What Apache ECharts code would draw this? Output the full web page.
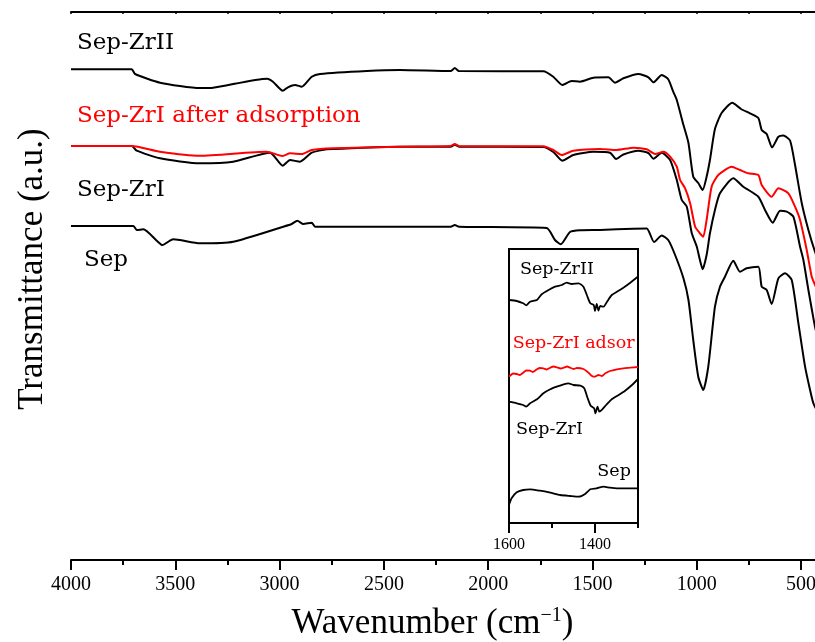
<!DOCTYPE html>
<html>
<head>
<meta charset="utf-8">
<script src="https://cdn.jsdelivr.net/npm/echarts@6/dist/echarts.min.js"></script>
<style>
  html, body { margin: 0; padding: 0; background: #fff; }
  #chart { width: 815px; height: 642px; }
</style>
</head>
<body>
<div id="chart"></div>
<script>
// FTIR spectra: [wavenumber (cm-1), offset transmittance (a.u.)]
const sepZrII = [
  [4000, 490.7], [3709, 490.7], [3693, 486], [3573, 477.3], [3382, 472], [3319, 472.3],
  [3060, 481.3], [3032, 478.3], [2985, 469.3], [2960, 472.7], [2926, 475], [2894, 473.3],
  [2846, 483.3], [2806, 486], [2582, 489], [2423, 490], [2180, 489], [2160, 492], [2140, 489],
  [1736, 488.7], [1688, 483.3], [1645, 475], [1600, 479], [1560, 478.3], [1496, 482.3],
  [1424, 482.7], [1392, 477.3], [1352, 481.7], [1280, 486], [1232, 482.7], [1208, 477.7],
  [1168, 485], [1137, 480.7], [1113, 468.3], [1096, 460], [1064, 435], [1040, 417],
  [1017, 383.3], [993, 377], [972, 370], [953, 383.3], [937, 400], [913, 431], [881, 447],
  [830, 457.3], [788, 451], [745, 446.7], [705, 442], [689, 430], [665, 426], [639, 412.5],
  [609, 423.3], [585, 424.5], [553, 419.5], [529, 395], [497, 357], [465, 330], [433, 308],
  [400, 290]
];

const sepZrIAdsorbed = [
  [4000, 414], [3709, 414], [3573, 408.3], [3382, 404.3], [3062, 408.3], [2985, 404],
  [2950, 406.7], [2894, 406], [2846, 410], [2743, 411.7], [2423, 413.3], [2180, 414],
  [2160, 416], [2140, 414], [1736, 413.7], [1688, 410], [1648, 405], [1592, 409.3],
  [1464, 411], [1384, 410], [1304, 412.3], [1240, 410.7], [1200, 406], [1160, 408.3],
  [1128, 403.3], [1096, 393.3], [1080, 380], [1056, 371.7], [1032, 356.7], [1008, 333.3],
  [985, 326.7], [969, 323.3], [953, 340], [929, 373.3], [897, 385], [833, 393.3],
  [793, 390], [753, 386.7], [705, 385], [689, 375], [641, 363.3], [609, 371.7], [561, 366.7],
  [529, 353.3], [505, 340], [473, 310], [449, 283.3], [433, 275], [400, 260]
];

const sepZrI = [
  [4000, 414], [3709, 414], [3685, 409.3], [3573, 401.7], [3382, 396.7], [3223, 398.3],
  [3046, 407.3], [2985, 394.3], [2950, 400], [2902, 398.3], [2846, 407.3], [2774, 410.7],
  [2423, 413.3], [2180, 413.3], [2160, 415.3], [2140, 413.3], [1736, 413], [1688, 408],
  [1645, 399.3], [1592, 405], [1496, 408.3], [1416, 407.3], [1387, 401], [1352, 405.5],
  [1280, 409.3], [1232, 407], [1208, 401.3], [1168, 407.3], [1128, 400], [1096, 380],
  [1072, 360], [1048, 353.3], [1024, 326.7], [1000, 313.3], [985, 300], [972, 290.7],
  [953, 305], [937, 326.7], [913, 350], [889, 366.7], [825, 381.7], [777, 373.3],
  [705, 363.3], [673, 350], [636, 337.3], [601, 349.3], [569, 348.3], [537, 343.3],
  [505, 313.3], [489, 300], [465, 270], [433, 233], [400, 205]
];

const sep = [
  [4000, 334], [3701, 334], [3685, 330], [3653, 330.7], [3589, 319.3], [3562, 315],
  [3510, 320.7], [3382, 316.7], [3222, 318.3], [2982, 333.3], [2942, 336], [2915, 339.3],
  [2886, 336], [2846, 337.3], [2830, 333.3], [2423, 333.3], [2180, 333.3], [2160, 335],
  [2140, 333.3], [1720, 332], [1680, 320], [1652, 315.7], [1608, 328], [1560, 329.7],
  [1464, 330], [1304, 331.3], [1240, 331.5], [1205, 318], [1168, 324.5], [1137, 320],
  [1104, 305], [1064, 281.7], [1040, 260], [1017, 220], [993, 183.3], [969, 170],
  [945, 193.3], [913, 253.3], [889, 273.3], [865, 283.3], [825, 299.3], [793, 288.3],
  [761, 291.7], [705, 293.3], [689, 273.3], [665, 270], [641, 256], [609, 281.7],
  [577, 286.7], [545, 280], [513, 236.7], [481, 193.3], [457, 170], [441, 156.7], [400, 140]
];

// Expanded 1600-1300 cm-1 region
const insetZrII = [
  [1600, 223], [1582, 222], [1567, 219.7], [1560, 217.7], [1551, 221.3], [1535, 223],
  [1524, 228.7], [1508, 233], [1493, 236.3], [1477, 238], [1466, 240.3], [1454, 239],
  [1438, 239.7], [1427, 236.3], [1419, 228], [1411, 219.7], [1403, 218], [1400, 212],
  [1396, 219], [1392, 212.3], [1388, 217], [1380, 216.3], [1372, 221.3], [1361, 228],
  [1349, 231.3], [1334, 235.3], [1318, 240.3], [1302, 245.7], [1300, 246.5]
];

const insetZrIAdsorbed = [
  [1600, 146.3], [1590, 149.5], [1582, 149], [1575, 148], [1567, 150.3], [1560, 152.5],
  [1551, 152.3], [1545, 151], [1535, 153.7], [1528, 155], [1520, 154.7], [1512, 153.5],
  [1504, 155.3], [1496, 156.5], [1489, 155.7], [1480, 154.5], [1473, 155.3], [1465, 156.5],
  [1458, 155.3], [1450, 154], [1442, 155], [1427, 154], [1415, 150.3], [1407, 147],
  [1400, 146.3], [1392, 148], [1384, 147], [1376, 149.7], [1365, 152], [1349, 153.7],
  [1334, 154.7], [1318, 155.3], [1300, 156]
];

const insetZrI = [
  [1600, 121.3], [1582, 119.7], [1567, 118], [1560, 116.3], [1551, 119.7], [1535, 123.7],
  [1520, 129.7], [1504, 133.7], [1489, 136.3], [1473, 138.7], [1462, 139.7], [1450, 138],
  [1434, 137.3], [1425, 134.7], [1417, 124.7], [1410, 117.3], [1402, 114.7], [1399, 109.7],
  [1394, 116.3], [1390, 111.3], [1383, 113.7], [1374, 118], [1361, 123.7], [1345, 128],
  [1330, 132.3], [1314, 138], [1300, 144]
];

const insetSep = [
  [1600, 18], [1594, 24.7], [1582, 30.7], [1567, 33], [1551, 33.7], [1528, 32.3],
  [1504, 30.3], [1481, 28], [1458, 27], [1438, 26.3], [1423, 29], [1411, 33.7],
  [1396, 34.7], [1380, 36.3], [1365, 35.3], [1349, 34.7], [1326, 34.7], [1300, 34.7]
];

const insetMajorTicks = [1600, 1400];
const insetMinorTicks = [1500, 1300];

const SERIF = '"Liberation Serif", "Times New Roman", serif';
const LABEL_FONT = '"DejaVu Serif", serif';
const BLACK = '#000000';
const RED = '#ff0000';
const plain = v => String(v);

function spectrum(name, data, color, xi, yi, width) {
  return {
    name, type: 'line', data,
    xAxisIndex: xi, yAxisIndex: yi,
    showSymbol: false, smooth: 0.2,
    lineStyle: { color, width },
    itemStyle: { color },
    silent: true
  };
}

function label(text, x, y, color, size) {
  return {
    type: 'text', x, y,
    style: {
      text, fill: color, font: size + 'px ' + LABEL_FONT,
      align: 'left', verticalAlign: 'middle'
    }
  };
}

const chart = echarts.init(document.getElementById('chart'));

chart.setOption({
  animation: false,
  backgroundColor: '#fff',
  grid: [
    { left: 71, top: 12, width: 834.4, height: 548, outerBoundsMode: 'none', containLabel: false },
    { left: 509, top: 249, width: 129, height: 274, outerBoundsMode: 'none', containLabel: false,
      show: true, borderColor: BLACK, borderWidth: 2 }
  ],
  xAxis: [
    {
      gridIndex: 0, type: 'value', min: 0, max: 4000, inverse: true, interval: 500,
      position: 'bottom',
      axisLine: { lineStyle: { color: BLACK, width: 2 } },
      axisTick: { length: 10, lineStyle: { color: BLACK, width: 2 } },
      minorTick: { show: true, splitNumber: 2, length: 5, lineStyle: { color: BLACK, width: 2 } },
      axisLabel: { margin: 15, color: BLACK, fontFamily: SERIF, fontSize: 20, formatter: plain },
      splitLine: { show: false }
    },
    {
      gridIndex: 0, type: 'value', min: 0, max: 4000, inverse: true, interval: 250,
      position: 'top',
      axisLine: { lineStyle: { color: BLACK, width: 2 } },
      axisTick: { inside: true, length: 2, lineStyle: { color: BLACK, width: 1.5 } },
      axisLabel: { show: false },
      splitLine: { show: false }
    },
    {
      gridIndex: 1, type: 'value', min: 1300, max: 1600, inverse: true,
      position: 'bottom',
      axisLine: { lineStyle: { color: BLACK, width: 2 } },
      axisTick: { length: 10, customValues: insetMajorTicks, lineStyle: { color: BLACK, width: 2 } },
      axisLabel: { customValues: insetMajorTicks, margin: 14, color: BLACK, fontFamily: SERIF,
        fontSize: 16, formatter: plain },
      splitLine: { show: false }
    },
    {
      gridIndex: 1, type: 'value', min: 1300, max: 1600, inverse: true,
      position: 'bottom',
      axisLine: { show: false },
      axisTick: { length: 5, customValues: insetMinorTicks, lineStyle: { color: BLACK, width: 2 } },
      axisLabel: { show: false },
      splitLine: { show: false }
    }
  ],
  yAxis: [
    {
      gridIndex: 0, type: 'value', min: 0, max: 548,
      axisLine: { show: true, lineStyle: { color: BLACK, width: 2 } },
      axisTick: { show: false }, axisLabel: { show: false }, splitLine: { show: false }
    },
    {
      gridIndex: 1, type: 'value', min: 0, max: 274,
      axisLine: { show: false }, axisTick: { show: false },
      axisLabel: { show: false }, splitLine: { show: false }
    }
  ],
  series: [
    spectrum('Sep', sep, BLACK, 0, 0, 2),
    spectrum('Sep-ZrI', sepZrI, BLACK, 0, 0, 2),
    spectrum('Sep-ZrII', sepZrII, BLACK, 0, 0, 2),
    spectrum('Sep-ZrI after adsorption', sepZrIAdsorbed, RED, 0, 0, 2),
    spectrum('Sep (1600-1300)', insetSep, BLACK, 2, 1, 1.8),
    spectrum('Sep-ZrI (1600-1300)', insetZrI, BLACK, 2, 1, 1.8),
    spectrum('Sep-ZrII (1600-1300)', insetZrII, BLACK, 2, 1, 1.8),
    spectrum('Sep-ZrI adsorbed (1600-1300)', insetZrIAdsorbed, RED, 2, 1, 1.8)
  ],
  graphic: [
    label('Sep-ZrII', 77, 43.5, BLACK, 23),
    label('Sep-ZrI after adsorption', 77, 116.5, RED, 23),
    label('Sep-ZrI', 77, 190.5, BLACK, 23),
    label('Sep', 84, 260, BLACK, 23),
    label('Sep-ZrII', 520, 269.5, BLACK, 17.5),
    label('Sep-ZrI adsor', 512.7, 343, RED, 17.5),
    label('Sep-ZrI', 516, 429, BLACK, 17.5),
    label('Sep', 597.3, 471, BLACK, 17.5),
    {
      type: 'text', x: 432.5, y: 623.5,
      style: {
        text: 'Wavenumber (cm{sup|−1})',
        fill: BLACK, font: '35px ' + SERIF,
        align: 'center', verticalAlign: 'middle',
        rich: { sup: { fontSize: 20, fontFamily: SERIF, fill: BLACK, verticalAlign: 'top', padding: [0, 0, 14, 0] } }
      }
    },
    {
      type: 'text', x: 32.5, y: 269, rotation: Math.PI / 2,
      style: {
        text: 'Transmittance (a.u.)', fill: BLACK, font: '35px ' + SERIF,
        align: 'center', verticalAlign: 'middle'
      }
    }
  ]
});
</script>
</body>
</html>
